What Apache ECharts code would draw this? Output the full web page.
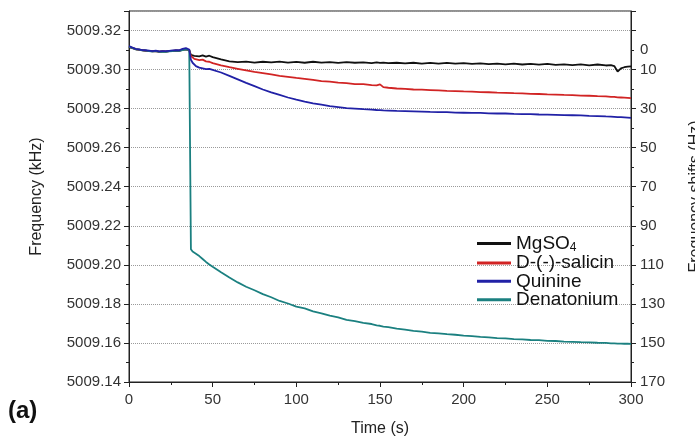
<!DOCTYPE html>
<html>
<head>
<meta charset="utf-8">
<script src="https://cdn.jsdelivr.net/npm/echarts@6/dist/echarts.min.js"></script>
<style>html,body{margin:0;padding:0;background:#fff;}#c{width:695px;height:438px;}</style>
</head>
<body>
<div id="c"></div>
<script>
// Time (s)
var times = [0,2,4,6,8,10,12,14,16,18,
  20,22,24,26,28,30,32,34,35,36,
  37,38,39,40,42,44,46,48,50,55,
  60,65,70,75,80,85,90,95,100,105,
  110,115,120,125,130,135,140,145,148,150,
  152,155,160,165,170,175,180,185,190,195,
  200,205,210,215,220,225,230,235,240,245,
  250,255,260,265,270,275,280,285,288,290,
  292,294,296,298,300];

// Frequency (kHz)
var mgso4 = [5009.3115,5009.3110,5009.3104,5009.3102,5009.3099,5009.3097,5009.3095,5009.3094,5009.3095,5009.3092,
  5009.3093,5009.3092,5009.3094,5009.3095,5009.3097,5009.3096,5009.3101,5009.3104,5009.3103,5009.3100,
  5009.3075,5009.3072,5009.3070,5009.3070,5009.3068,5009.3073,5009.3066,5009.3071,5009.3064,5009.3052,
  5009.3042,5009.3038,5009.3041,5009.3036,5009.3040,5009.3037,5009.3041,5009.3036,5009.3039,5009.3035,
  5009.3040,5009.3036,5009.3038,5009.3034,5009.3038,5009.3035,5009.3037,5009.3033,5009.3037,5009.3034,
  5009.3036,5009.3033,5009.3035,5009.3032,5009.3035,5009.3031,5009.3034,5009.3030,5009.3034,5009.3030,
  5009.3033,5009.3029,5009.3032,5009.3028,5009.3031,5009.3027,5009.3031,5009.3026,5009.3029,5009.3025,
  5009.3029,5009.3024,5009.3027,5009.3023,5009.3027,5009.3022,5009.3026,5009.3021,5009.3023,5009.3018,
  5009.2990,5009.3006,5009.3012,5009.3015,5009.3016];

var salicin = [5009.3117,5009.3111,5009.3105,5009.3101,5009.3100,5009.3096,5009.3096,5009.3093,5009.3095,5009.3091,
  5009.3094,5009.3092,5009.3095,5009.3096,5009.3098,5009.3097,5009.3102,5009.3105,5009.3104,5009.3098,
  5009.3070,5009.3060,5009.3055,5009.3052,5009.3048,5009.3051,5009.3042,5009.3040,5009.3033,5009.3022,
  5009.3012,5009.3004,5009.2996,5009.2988,5009.2982,5009.2975,5009.2968,5009.2963,5009.2957,5009.2952,
  5009.2947,5009.2941,5009.2938,5009.2933,5009.2931,5009.2926,5009.2925,5009.2920,5009.2919,5009.2924,
  5009.2910,5009.2907,5009.2903,5009.2901,5009.2898,5009.2897,5009.2895,5009.2893,5009.2891,5009.2890,
  5009.2888,5009.2887,5009.2885,5009.2884,5009.2882,5009.2881,5009.2879,5009.2878,5009.2876,5009.2875,
  5009.2873,5009.2872,5009.2870,5009.2869,5009.2867,5009.2866,5009.2864,5009.2863,5009.2860,5009.2860,
  5009.2858,5009.2857,5009.2856,5009.2855,5009.2854];

var quinine = [5009.3120,5009.3113,5009.3106,5009.3104,5009.3100,5009.3099,5009.3097,5009.3095,5009.3097,5009.3093,
  5009.3095,5009.3094,5009.3096,5009.3098,5009.3099,5009.3099,5009.3106,5009.3110,5009.3107,5009.3103,
  5009.3050,5009.3035,5009.3025,5009.3018,5009.3010,5009.3006,5009.3002,5009.3004,5009.2998,5009.2985,
  5009.2968,5009.2950,5009.2932,5009.2915,5009.2898,5009.2883,5009.2870,5009.2857,5009.2846,5009.2836,
  5009.2827,5009.2820,5009.2813,5009.2808,5009.2803,5009.2800,5009.2797,5009.2795,5009.2793,5009.2792,
  5009.2791,5009.2790,5009.2788,5009.2787,5009.2786,5009.2785,5009.2783,5009.2782,5009.2782,5009.2780,
  5009.2779,5009.2778,5009.2778,5009.2776,5009.2775,5009.2775,5009.2773,5009.2772,5009.2772,5009.2770,
  5009.2769,5009.2768,5009.2767,5009.2766,5009.2765,5009.2763,5009.2762,5009.2760,5009.2759,5009.2758,
  5009.2757,5009.2756,5009.2755,5009.2754,5009.2753];

var denatonium = [5009.3116,5009.3111,5009.3104,5009.3102,5009.3098,5009.3097,5009.3094,5009.3092,5009.3094,5009.3091,
  5009.3092,5009.3091,5009.3093,5009.3095,5009.3097,5009.3096,5009.3100,5009.3103,5009.3102,5009.3100,
  5009.2080,5009.2068,5009.2062,5009.2057,5009.2045,5009.2030,5009.2015,5009.2002,5009.1990,5009.1962,
  5009.1935,5009.1910,5009.1888,5009.1870,5009.1850,5009.1834,5009.1815,5009.1802,5009.1786,5009.1777,
  5009.1762,5009.1752,5009.1740,5009.1731,5009.1718,5009.1712,5009.1703,5009.1697,5009.1690,5009.1688,
  5009.1684,5009.1681,5009.1673,5009.1668,5009.1662,5009.1658,5009.1652,5009.1649,5009.1645,5009.1642,
  5009.1638,5009.1635,5009.1631,5009.1629,5009.1625,5009.1623,5009.1620,5009.1618,5009.1615,5009.1614,
  5009.1611,5009.1610,5009.1607,5009.1606,5009.1604,5009.1603,5009.1601,5009.1600,5009.1598,5009.1598,
  5009.1597,5009.1597,5009.1596,5009.1596,5009.1595];

var seriesNames = ['MgSO4', 'D-(-)-salicin', 'Quinine', 'Denatonium'];
var seriesValues = [mgso4, salicin, quinine, denatonium];
var seriesColors = ['#111111', '#d12424', '#2121a6', '#1b8080'];

// Right axis labels: frequency shifts (Hz), relative to baseline
var baselineKHz = 5009.31;
var shiftLabels = [0, 10, 30, 50, 70, 90, 110, 130, 150, 170];

var FONT = 'Liberation Sans, Arial, sans-serif';

function pairs(vals) {
  return times.map(function (t, i) { return [t, vals[i]]; });
}

var chart = echarts.init(document.getElementById('c'), null, {renderer: 'canvas'});

var series = seriesNames.map(function (n, i) {
  return {
    name: n,
    type: 'line',
    data: pairs(seriesValues[i]),
    showSymbol: false,
    symbol: 'none',
    lineStyle: {width: 1.8, color: seriesColors[i]},
    itemStyle: {color: seriesColors[i]},
    z: [2, 3, 5, 4][i],
    animation: false
  };
});

chart.setOption({
  backgroundColor: '#ffffff',
  animation: false,
  grid: {left: 129, right: 64, top: 11, bottom: 56, show: true, borderColor: '#222', borderWidth: 1, outerBoundsMode: 'none'},
  legend: {
    orient: 'vertical',
    left: 472,
    top: 228,
    itemWidth: 34,
    itemHeight: 3,
    itemGap: -0.6,
    icon: 'rect',
    data: seriesNames,
    textStyle: {
      fontFamily: FONT,
      fontSize: 19,
      color: '#111',
      lineHeight: 18,
      rich: {
        n: {fontFamily: FONT, fontSize: 19, color: '#111', lineHeight: 18},
        s: {fontFamily: FONT, fontSize: 12, color: '#111', lineHeight: 18, padding: [9, 0, 0, 0]}
      }
    },
    formatter: function (name) {
      if (name === 'MgSO4') return '{n|MgSO}{s|4}';
      return '{n|' + name + '}';
    }
  },
  xAxis: {
    type: 'value',
    min: 0, max: 300, interval: 50,
    name: 'Time (s)',
    nameLocation: 'middle',
    nameGap: 39,
    nameTextStyle: {fontFamily: FONT, fontSize: 16, color: '#222'},
    axisLine: {show: true, lineStyle: {color: '#222', width: 1}},
    axisTick: {show: true, length: 5, lineStyle: {color: '#222'}},
    minorTick: {show: true, splitNumber: 2, length: 3, lineStyle: {color: '#222'}},
    splitLine: {show: false},
    axisLabel: {fontFamily: FONT, fontSize: 15, color: '#333', margin: 10}
  },
  yAxis: [{
    type: 'value',
    position: 'left',
    min: 5009.14, max: 5009.33, interval: 0.02,
    name: 'Frequency (kHz)',
    nameLocation: 'middle',
    nameGap: 84,
    nameRotate: 90,
    nameTextStyle: {fontFamily: FONT, fontSize: 16, color: '#222'},
    axisLine: {show: true, lineStyle: {color: '#222', width: 1}},
    axisTick: {show: true, length: 5, lineStyle: {color: '#222'}},
    minorTick: {show: true, splitNumber: 2, length: 3, lineStyle: {color: '#222'}},
    splitLine: {show: true, lineStyle: {type: 'dotted', color: '#9a9a9a', width: 1}},
    axisLabel: {fontFamily: FONT, fontSize: 15, color: '#333', margin: 8, showMaxLabel: false,
      formatter: function (v) { return v.toFixed(2); }}
  }, {
    type: 'value',
    position: 'right',
    min: 5009.14, max: 5009.33, interval: 0.02,
    name: 'Frequency shifts (Hz)',
    nameLocation: 'middle',
    nameGap: 57,
    nameRotate: 90,
    nameTextStyle: {fontFamily: FONT, fontSize: 16, color: '#222'},
    axisLine: {show: true, lineStyle: {color: '#222', width: 1}},
    axisTick: {show: true, length: 5, lineStyle: {color: '#222'}},
    minorTick: {show: true, splitNumber: 2, length: 3, lineStyle: {color: '#222'}},
    splitLine: {show: false},
    axisLabel: {
      fontFamily: FONT, fontSize: 15, color: '#333', margin: 9,
      customValues: shiftLabels.map(function (s) { return baselineKHz - s / 1000; }),
      formatter: function (v) { return String(Math.round((baselineKHz - v) * 1000)); }
    }
  }],
  graphic: [{
    type: 'text',
    left: 8, top: 399,
    style: {text: '(a)', fontFamily: FONT, fontSize: 24, fontWeight: 'bold', fill: '#111'}
  }],
  series: series
});
</script>
</body>
</html>
